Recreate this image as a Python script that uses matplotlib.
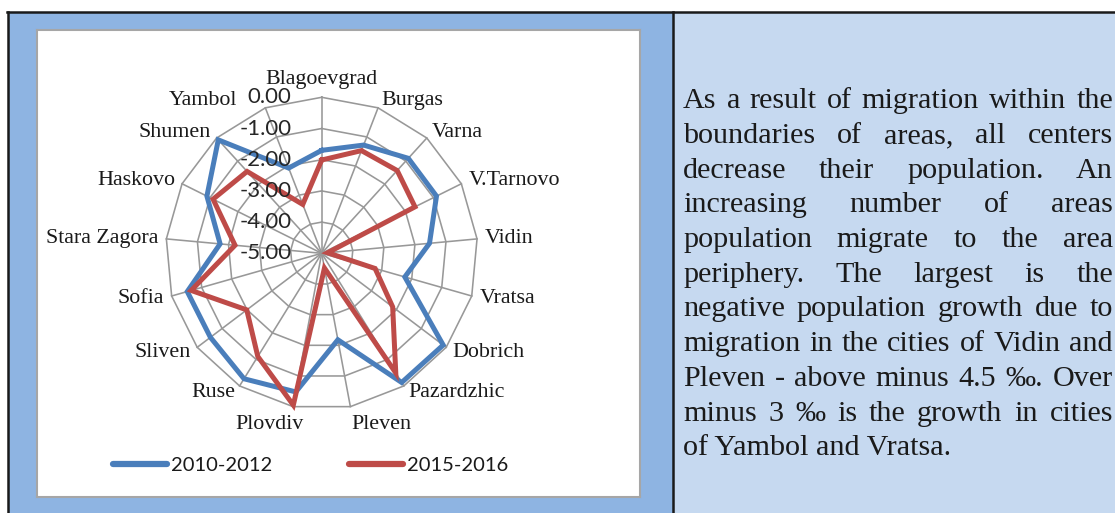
import matplotlib
matplotlib.use('Agg')
import matplotlib.pyplot as plt
from matplotlib.patches import Rectangle
from matplotlib.lines import Line2D
import numpy as np

# migration growth by regional centre, per mille
cities = ['Blagoevgrad', 'Burgas', 'Varna', 'V.Tarnovo', 'Vidin', 'Vratsa',
          'Dobrich', 'Pazardzhic', 'Pleven', 'Plovdiv', 'Ruse', 'Sliven',
          'Sofia', 'Stara Zagora', 'Haskovo', 'Shumen', 'Yambol']
growth_2010_2012 = [-1.70, -1.28, -0.88, -0.89, -1.53, -2.23, -0.12, -0.13, -2.18,
                    -0.48, -0.27, -0.53, -0.52, -1.73, -0.89, -0.08, -2.07]
growth_2015_2016 = [-2.01, -1.47, -1.41, -1.66, -4.81, -3.22, -2.15, -0.49, -4.52,
                    -0.05, -1.11, -1.99, -0.65, -2.21, -1.11, -1.45, -3.32]
series_labels = ['2010-2012', '2015-2016']
ring_values = [0.0, -1.0, -2.0, -3.0, -4.0, -5.0]

text_lines = [
    'As a result of migration within the',
    'boundaries of areas, all centers',
    'decrease their population. An',
    'increasing number of areas',
    'population migrate to the area',
    'periphery. The largest is the',
    'negative population growth due to',
    'migration in the cities of Vidin and',
    'Pleven - above minus 4.5 \u2030. Over',
    'minus 3 \u2030 is the growth in cities',
    'of Yambol and Vratsa.',
]

W, H = 1115, 513
r_min = -5.0
ppu = 31.2          # pixels per radial unit
cx, cy = 321.7, 253.3


def fx(px):
    return px / W


def fy(py):
    return 1 - py / H


fig = plt.figure(figsize=(W / 100, H / 100), dpi=100)
fig.patch.set_facecolor('white')

# table cells
fig.patches.append(Rectangle((fx(8), fy(513)), (673 - 8) / W, (513 - 12) / H,
                             transform=fig.transFigure, facecolor='#8EB4E2', edgecolor='none', zorder=-2))
fig.patches.append(Rectangle((fx(673), fy(513)), (W - 673) / W, (513 - 12) / H,
                             transform=fig.transFigure, facecolor='#C6D9F0', edgecolor='none', zorder=-2))
for xs, ys in [([7, W], [12, 12]), ([8, 8], [12, 513]), ([673, 673], [12, 513])]:
    fig.add_artist(Line2D([fx(x) for x in xs], [fy(y) for y in ys], color='#1a1a1a', lw=1.8, zorder=-1))

# chart area
left, top, right, bottom = 37, 30, 640, 497
ax = fig.add_axes([fx(left), fy(bottom), (right - left) / W, (bottom - top) / H])
ax.set_zorder(1)
ax.set_xlim(-(cx - left) / ppu, (right - cx) / ppu)
ax.set_ylim(-(bottom - cy) / ppu, (cy - top) / ppu)
ax.set_facecolor('white')
for s in ax.spines.values():
    s.set_color('#A6A6A6')
    s.set_linewidth(1.5)
ax.set_xticks([])
ax.set_yticks([])

n = len(cities)
theta = 2 * np.pi * np.arange(n) / n
sin_t, cos_t = np.sin(theta), np.cos(theta)
R = max(ring_values) - r_min

# web grid
grid_kw = dict(color='#989898', lw=1.15, zorder=1)
for v in ring_values[:-1]:
    r = v - r_min
    ax.plot(np.append(r * sin_t, 0), np.append(r * cos_t, r), **grid_kw)
for s, c in zip(sin_t, cos_t):
    ax.plot([0, R * s], [0, R * c], **grid_kw)

# series
for vals, col, lab in [(growth_2010_2012, '#4A7EBB', series_labels[0]),
                       (growth_2015_2016, '#BE4B48', series_labels[1])]:
    r = np.array(vals) - r_min
    x = np.append(r * sin_t, r[0] * sin_t[0])
    y = np.append(r * cos_t, r[0] * cos_t[0])
    ax.plot(x, y, color=col, lw=3.6, label=lab, solid_joinstyle='miter', zorder=3)

# radial value labels
for v in ring_values:
    ax.text(-30 / ppu, v - r_min, f'{v:.2f}', ha='right', va='center',
            fontsize=16, family='Lato', color='#262626', zorder=4)

# category labels
label_nudge = {'Yambol': -25, 'Plovdiv': 12}
pad = 8 / ppu
for name, s, c in zip(cities, sin_t, cos_t):
    x = (R + pad) * s + label_nudge.get(name, 0) / ppu
    y = (R + pad) * c
    ha = 'center' if abs(s) < 0.05 else ('left' if s > 0 else 'right')
    va = 'bottom' if c > 0.95 else ('top' if c < -0.95 else 'center')
    ax.text(x, y, name, ha=ha, va=va, fontsize=15.8, family='Liberation Serif',
            color='#1a1a1a', zorder=4)

leg = ax.legend(loc='center', bbox_to_anchor=(0.454, 0.0685), ncol=2, frameon=False,
                handlelength=2.7, handletextpad=0.2, columnspacing=3.8,
                prop=dict(family='Lato', size=14.5))
for ln in leg.get_lines():
    ln.set_linewidth(4.5)
    ln.set_solid_capstyle('round')
for t in leg.get_texts():
    t.set_color('#1a1a1a')

# justified paragraph in the right cell
renderer = fig.canvas.get_renderer()
tx0, tx1 = 683, 1113
base0, step = 108.3, 34.7
txt_kw = dict(fontsize=21.7, family='Liberation Serif', color='#1a1a1a', va='baseline', ha='left')
for i, line in enumerate(text_lines):
    yb = fy(base0 + i * step)
    if i == len(text_lines) - 1:
        fig.text(fx(tx0), yb, line, **txt_kw)
        continue
    words = line.split()
    objs = [fig.text(fx(tx0), yb, w, **txt_kw) for w in words]
    widths = [o.get_window_extent(renderer).width for o in objs]
    gap = (tx1 - tx0 - sum(widths)) / (len(words) - 1)
    xpos = tx0
    for o, w in zip(objs, widths):
        o.set_x(fx(xpos))
        xpos += w + gap

fig.savefig('out.png', dpi=100)
